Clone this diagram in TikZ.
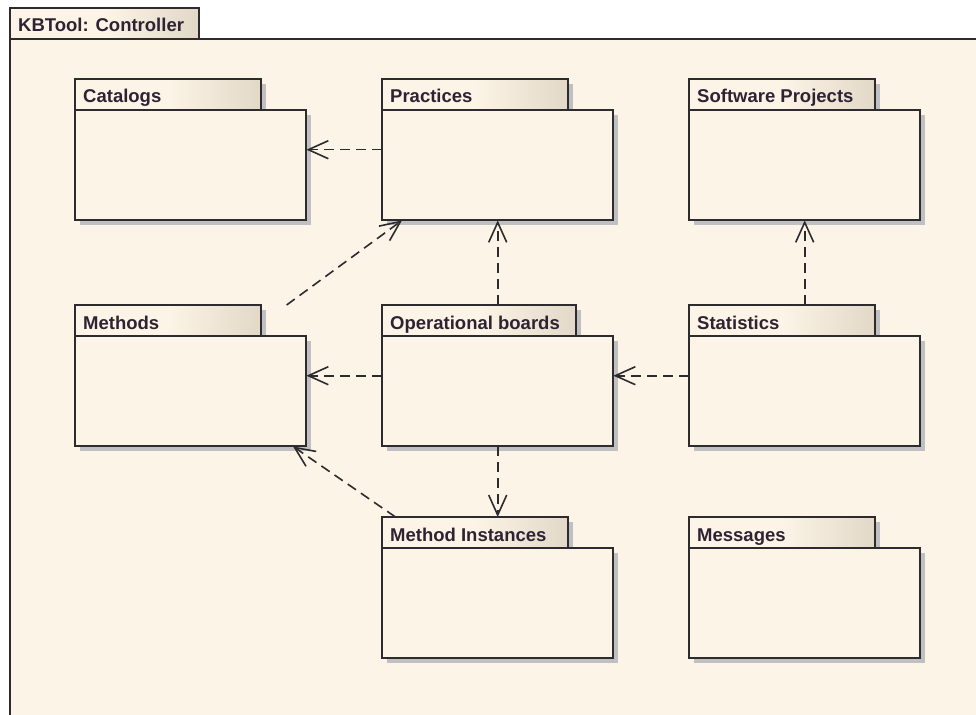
\documentclass[tikz,border=0pt]{standalone}
\usepackage{fontspec}
\setmainfont{Liberation Sans}
\usetikzlibrary{arrows.meta}
\definecolor{pkgfill}{RGB}{252,244,230}
\definecolor{tabend}{RGB}{226,216,200}
\definecolor{pkgline}{RGB}{45,43,45}
\definecolor{pkgshadow}{RGB}{192,192,194}
\definecolor{pkgtext}{RGB}{45,35,50}
\tikzset{
  pkgbox/.style={draw=pkgline, line width=1.5pt, fill=pkgfill},
  pkgtab/.style={draw=pkgline, line width=1.5pt, left color=pkgfill, right color=tabend, middle color=pkgfill},
  pkgshade/.style={fill=pkgshadow},
  pkglabel/.style={anchor=base west, inner sep=0pt, text=pkgtext, font=\fontsize{18.5}{21}\selectfont\bfseries},
  dep/.style={draw=pkgline, line width=1.6pt, dash pattern=on 10pt off 6pt, -{Straight Barb[length=20pt,width=18pt]}}
}
\begin{document}
\begin{tikzpicture}[x=1pt, y=-1pt]
    \useasboundingbox (0,0) rectangle (976,714);
    \clip (0,0) rectangle (976,714);
    % outer frame: KBTool: Controller
    \draw[pkgtab] (10,8) rectangle (199,39);
    \draw[pkgbox] (10,39) rectangle (1000,740);
    \node[pkglabel] (frame) at (18,32) {KBTool: Controller};
    % packages: name / left / top / tab width / label
    \foreach \n/\x/\y/\w/\t in {catalogs/75/79/186/Catalogs, practices/382/79/186/Practices,
        projects/689/79/186/Software Projects, methods/75/305/186/Methods,
        boards/382/305/194/Operational boards, statistics/689/305/186/Statistics,
        instances/382/517/186/Method Instances, messages/689/517/186/Messages} {
      \fill[pkgshade] (\x+5,\y+5) rectangle (\x+\w+5,\y+36);
      \fill[pkgshade] (\x+5,\y+36) rectangle (\x+236,\y+146);
      \draw[pkgtab] (\x,\y) rectangle (\x+\w,\y+31);
      \draw[pkgbox] (\x,\y+31) rectangle (\x+231,\y+141);
      \node[pkglabel] at (\x+8,\y+24) {\t};
      \node[inner sep=0pt, minimum width=231pt, minimum height=141pt, anchor=north west] (\n) at (\x,\y) {};
    }
    % dependencies
    \draw[dep] (practices) -- (catalogs);
    \draw[dep] (methods) -- (practices);
    \draw[dep] (boards) -- (practices);
    \draw[dep] (boards) -- (methods);
    \draw[dep] (statistics) -- (boards);
    \draw[dep] (statistics) -- (projects);
    \draw[dep] (boards) -- (instances);
    \draw[dep] (instances) -- (methods);
\end{tikzpicture}
\end{document}
